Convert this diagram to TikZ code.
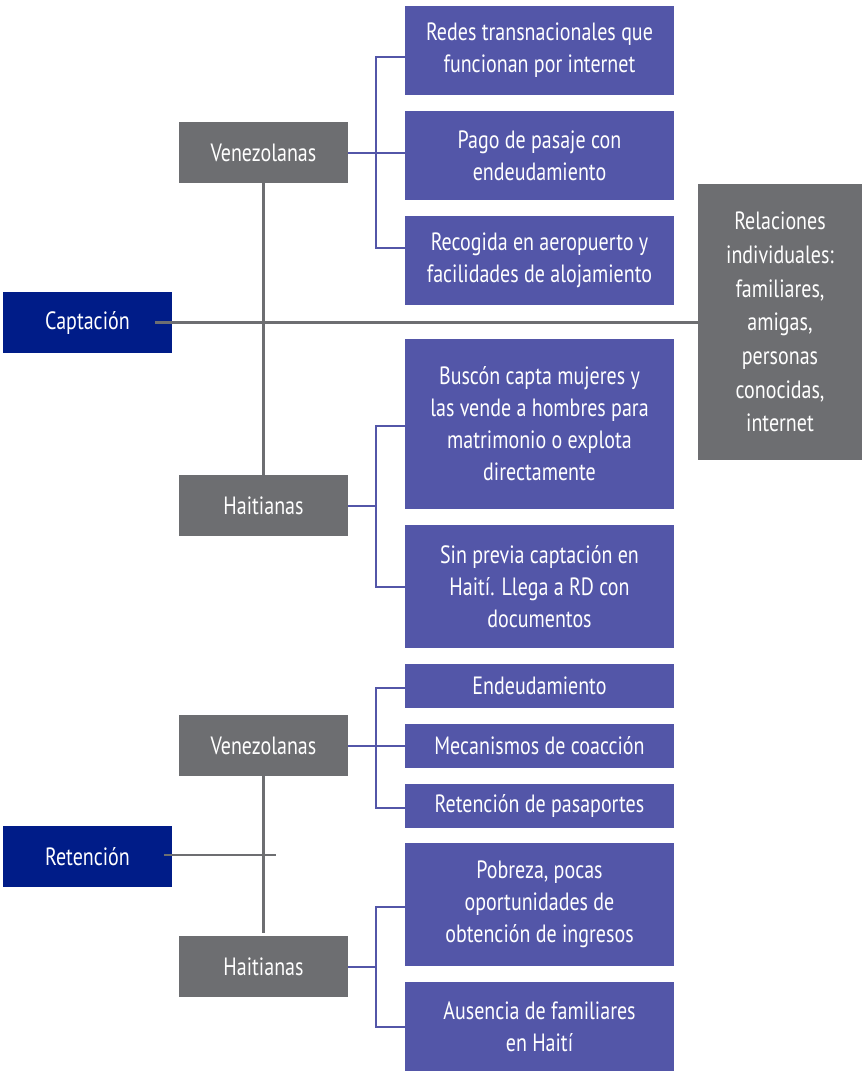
\documentclass[tikz,border=0pt]{standalone}
\usepackage{fontspec}
\setmainfont{PT Sans}[FakeStretch=0.8]
\definecolor{dblue}{HTML}{001C88}
\definecolor{gbox}{HTML}{6D6E71}
\definecolor{pbox}{HTML}{5356A8}
\begin{document}
\begin{tikzpicture}[x=1pt,y=1pt,
  base/.style={inner sep=0pt, outer sep=0pt, text=white, align=center,
    font=\fontsize{25}{32}\selectfont},
  mainbox/.style={base, fill=dblue, minimum width=169pt, minimum height=61pt},
  grpbox/.style={base, fill=gbox, minimum width=169pt, minimum height=61pt},
  itembox/.style={base, fill=pbox, minimum width=269pt},
  relbox/.style={base, fill=gbox, minimum width=164pt, minimum height=276pt,
    font=\fontsize{25}{33.7}\selectfont},
  gline/.style={draw=gbox, line width=2.5pt},
  pline/.style={draw=pbox, line width=2pt}]
\useasboundingbox (0,0) rectangle (862,-1071);
\fill[white] (0,0) rectangle (862,-1071);

\node[mainbox] (capt) at (87.5,-322.5) {Captación};
\node[mainbox] (ret) at (87.5,-856.5) {Retención};
\node[grpbox] (ven1) at (263.5,-152.5) {Venezolanas};
\node[grpbox] (hai1) at (263.5,-505.5) {Haitianas};
\node[grpbox] (ven2) at (263.5,-745.5) {Venezolanas};
\node[grpbox] (hai2) at (263.5,-966.5) {Haitianas};

\node[itembox, minimum height=89pt] (redes) at (539.5,-50.5) {Redes transnacionales que\\funcionan por internet};
\node[itembox, minimum height=89pt] (pago) at (539.5,-155.5) {Pago de pasaje con\\endeudamiento};
\node[itembox, minimum height=89pt] (recog) at (539.5,-260.5) {Recogida en aeropuerto y\\facilidades de alojamiento};
\node[itembox, minimum height=170pt] (buscon) at (539.5,-424) {Buscón capta mujeres y\\las vende a hombres para\\matrimonio o explota\\directamente};
\node[itembox, minimum height=123pt] (sin) at (539.5,-586.5) {Sin previa captación en\\Haití. Llega a RD con\\documentos};
\node[itembox, minimum height=44pt] (endeu) at (539.5,-686) {Endeudamiento};
\node[itembox, minimum height=44pt] (mecan) at (539.5,-746) {Mecanismos de coacción};
\node[itembox, minimum height=44pt] (pasap) at (539.5,-806) {Retención de pasaportes};
\node[itembox, minimum height=123pt] (pobreza) at (539.5,-904.5) {Pobreza, pocas\\oportunidades de\\obtención de ingresos};
\node[itembox, minimum height=89pt] (ausen) at (539.5,-1026.5) {Ausencia de familiares\\en Haití};

\node[relbox] (rel) at (780,-322) {Relaciones\\individuales:\\familiares,\\amigas,\\personas\\conocidas,\\internet};

% gray connectors
\draw[gline] ([xshift=-17pt]capt.east) -- (capt.east -| rel.west);
\draw[gline] (ven1.south) -- (hai1.north);
\draw[gline] (ven2.south) -- ([yshift=3pt]hai2.north);
\coordinate (retend) at (276,-855);
\draw[gline] ([xshift=-8pt,yshift=1.5pt]ret.east) -- (retend);

% purple connectors
\draw[pline] (ven1.east) -- ++(28,0) coordinate (j1);
\draw[pline] ([yshift=-6.5pt]redes.west) -| (j1) |- ([yshift=12.5pt]recog.west);
\draw[pline] (j1) -- (j1 -| pago.west);

\draw[pline] (hai1.east) -- ++(28,0) coordinate (j2);
\draw[pline] ([yshift=-2pt]buscon.west) -| (j2) |- (sin.west);

\draw[pline] (ven2.east) -- ++(28,0) coordinate (j3);
\draw[pline] ([yshift=-2pt]endeu.west) -| (j3) |- ([yshift=-1.5pt]pasap.west);
\draw[pline] (j3) -- (j3 -| mecan.west);

\draw[pline] (hai2.east) -- ++(28,0) coordinate (j4);
\draw[pline] ([yshift=-2pt]pobreza.west) -| (j4) |- (ausen.west);
\end{tikzpicture}
\end{document}
